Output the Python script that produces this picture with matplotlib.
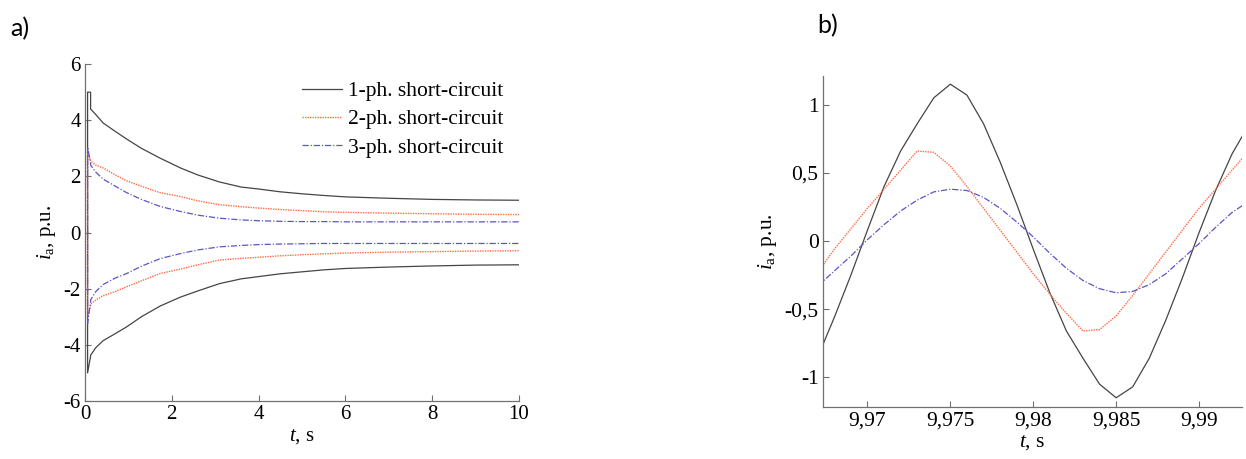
import numpy as np
import matplotlib
matplotlib.use("Agg")
import matplotlib.pyplot as plt

plt.rcParams['font.family'] = 'serif'
plt.rcParams['font.serif'] = ['Liberation Serif', 'DejaVu Serif']
plt.rcParams['mathtext.fontset'] = 'custom'
plt.rcParams['mathtext.it'] = 'Liberation Serif:italic'
plt.rcParams['mathtext.rm'] = 'Liberation Serif'
plt.rcParams['axes.unicode_minus'] = False
SERIF = 'Liberation Serif'

# a) envelopes of the phase current, t in s
t_env = [0.06, 0.06, 0.13, 0.13, 0.25, 0.42, 0.7, 0.96, 1.3, 1.73, 2.2, 2.6,
         3.1, 3.6, 4, 4.5, 5, 5.5, 6, 7, 8, 9, 10]
ph1_up = [0, 5.0, 5.0, 4.4, 4.2, 3.9, 3.6, 3.33, 3.0, 2.65, 2.3, 2.05,
          1.8, 1.62, 1.55, 1.45, 1.38, 1.32, 1.27, 1.22, 1.18, 1.16, 1.15]
ph1_lo = [0, -5.0, -4.4, -4.37, -4.1, -3.85, -3.6, -3.36, -3.0, -2.62, -2.3, -2.08,
          -1.82, -1.65, -1.57, -1.47, -1.40, -1.33, -1.28, -1.23, -1.19, -1.16, -1.15]
ph2_up = [0, 2.8, 2.6, 2.55, 2.4, 2.3, 2.05, 1.84, 1.65, 1.42, 1.28, 1.13,
          0.99, 0.92, 0.87, 0.82, 0.78, 0.74, 0.72, 0.69, 0.67, 0.65, 0.64]
ph2_lo = [0, -3.0, -2.6, -2.55, -2.4, -2.25, -2.1, -1.93, -1.72, -1.46, -1.3, -1.15,
          -0.98, -0.92, -0.88, -0.83, -0.79, -0.76, -0.73, -0.70, -0.68, -0.66, -0.65]
ph3_up = [0, 3.05, 2.45, 2.40, 2.15, 1.9, 1.65, 1.42, 1.18, 0.93, 0.75, 0.62,
          0.51, 0.45, 0.42, 0.40, 0.39, 0.39, 0.38, 0.38, 0.38, 0.38, 0.38]
ph3_lo = [0, -3.25, -2.45, -2.4, -2.1, -1.85, -1.62, -1.46, -1.2, -0.93, -0.75, -0.62,
          -0.51, -0.46, -0.43, -0.41, -0.40, -0.39, -0.39, -0.39, -0.39, -0.39, -0.39]

# b) zoom on the last period, samples every 1 ms
t_zoom = [9.967, 9.968, 9.969, 9.970, 9.971, 9.972, 9.973, 9.974, 9.975, 9.976,
          9.977, 9.978, 9.979, 9.980, 9.981, 9.982, 9.983, 9.984, 9.985, 9.986,
          9.987, 9.988, 9.989, 9.990, 9.991, 9.992, 9.993]
ph1_z = [-0.85, -0.56, -0.25, 0.08, 0.40, 0.66, 0.86, 1.05, 1.15, 1.07,
         0.86, 0.58, 0.27, -0.06, -0.38, -0.66, -0.86, -1.05, -1.15, -1.07,
         -0.86, -0.58, -0.27, 0.06, 0.37, 0.64, 0.85]
ph2_z = [-0.23, -0.06, 0.09, 0.24, 0.38, 0.52, 0.66, 0.65, 0.55, 0.40,
         0.24, 0.08, -0.08, -0.24, -0.39, -0.53, -0.66, -0.65, -0.55, -0.40,
         -0.24, -0.08, 0.08, 0.24, 0.38, 0.52, 0.66]
ph3_z = [-0.33, -0.22, -0.11, 0.01, 0.12, 0.22, 0.30, 0.36, 0.38, 0.37,
         0.32, 0.24, 0.14, 0.03, -0.09, -0.20, -0.29, -0.35, -0.38, -0.37,
         -0.32, -0.24, -0.13, -0.02, 0.10, 0.21, 0.29]

labels = ['1-ph. short-circuit', '2-ph. short-circuit', '3-ph. short-circuit']
c1, c2, c3 = '#454545', '#ff6a45', '#5a55c8'
st1 = dict(color=c1, lw=0.9, ls='-')
st2 = dict(color=c2, lw=1.0, ls=(0, (1, 0.8)))
st3 = dict(color=c3, lw=0.9, ls=(0, (5, 1.5, 1, 1.5)))

fig = plt.figure(figsize=(12.46, 4.59), dpi=100)
ax1 = fig.add_axes([0.0682, 0.1264, 0.3483, 0.734])
ax2 = fig.add_axes([0.6603, 0.1126, 0.3363, 0.7218])

ax1.plot(t_env, ph1_up, label=labels[0], **st1)
ax1.plot(t_env, ph2_up, label=labels[1], **st2)
ax1.plot(t_env, ph3_up, label=labels[2], **st3)
ax1.plot(t_env, ph1_lo, **st1)
ax1.plot(t_env, ph2_lo, **st2)
ax1.plot(t_env, ph3_lo, **st3)
ax1.set_xlim(0, 10)
ax1.set_ylim(-6, 6)
ax1.set_xticks([0, 2, 4, 6, 8, 10])
ax1.set_xticklabels(['0', '2', '4', '6', '8', '10'])
ax1.set_yticks([-6, -4, -2, 0, 2, 4, 6])
ax1.set_yticklabels(['-6', '-4', '-2', '0', '2', '4', '6'])
ax1.legend(loc='upper right', frameon=False, handlelength=1.85,
           prop={'family': SERIF, 'size': 15.5},
           handletextpad=0.3, labelspacing=0.38, borderaxespad=0.0,
           bbox_to_anchor=(0.985, 0.975))

ax2.plot(t_zoom, ph1_z, **st1)
ax2.plot(t_zoom, ph2_z, **st2)
ax2.plot(t_zoom, ph3_z, **st3)
ax2.set_xlim(9.9673, 9.99258)
ax2.set_ylim(-1.22, 1.21)
ax2.set_xticks([9.97, 9.975, 9.98, 9.985, 9.99])
ax2.set_xticklabels(['9,97', '9,975', '9,98', '9,985', '9,99'])
ax2.set_yticks([-1, -0.5, 0, 0.5, 1])
ax2.set_yticklabels(['-1', '-0,5', '0', '0,5', '1'])

for ax, fs in ((ax1, 15), (ax2, 15.5)):
    ax.spines['top'].set_visible(False)
    ax.spines['right'].set_visible(False)
    for s in ('left', 'bottom'):
        ax.spines[s].set_color('#707070')
        ax.spines[s].set_linewidth(0.9)
    ax.tick_params(direction='in', length=4, width=0.8, color='#707070', pad=3)
    for lbl in ax.get_xticklabels() + ax.get_yticklabels():
        lbl.set_fontfamily(SERIF)
        lbl.set_fontsize(fs)
    ax.set_xlabel(r'$t$, s', fontsize=fs, labelpad=2, family=SERIF)
    ax.set_ylabel(r'$i_{\mathrm{a}}$, p.u.', fontsize=fs, labelpad=4, family=SERIF)

fig.text(0.008, 0.922, 'a)', fontsize=18, family=['Lato', 'DejaVu Sans'])
fig.text(0.656, 0.927, 'b)', fontsize=18, family=['Lato', 'DejaVu Sans'])

fig.savefig('out.png', dpi=100)
